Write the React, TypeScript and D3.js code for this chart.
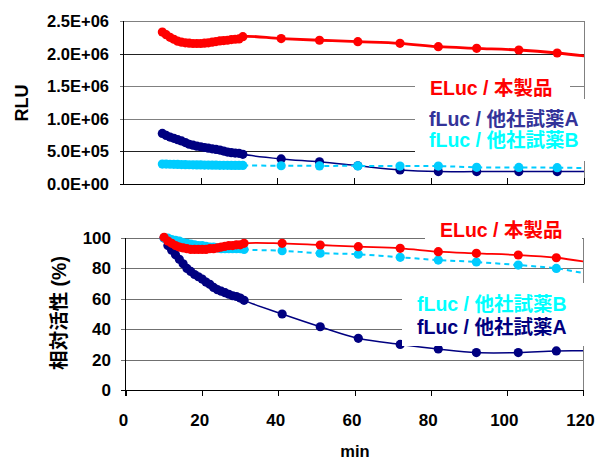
import React from "react";
import * as d3 from "d3";

const times = [10, 11, 12, 13, 14, 15, 16, 17, 18, 19, 20, 21, 22, 23, 24, 25, 26, 27, 28, 29, 30, 31, 41, 51, 61, 72, 82, 92, 103, 113, 123];

const elucRLU = [2330000, 2290000, 2250000, 2220000, 2190000, 2175000, 2165000, 2160000, 2155000, 2155000, 2155000, 2160000, 2165000, 2175000, 2185000, 2195000, 2200000, 2205000, 2215000, 2220000, 2225000, 2260000, 2230000, 2205000, 2183000, 2158000, 2106000, 2081000, 2055000, 2009000, 1943000];
const flucARLU = [775000, 745000, 720000, 700000, 680000, 660000, 635000, 610000, 595000, 580000, 570000, 560000, 550000, 540000, 530000, 520000, 505000, 490000, 480000, 475000, 470000, 455000, 385000, 340000, 280000, 215000, 190000, 190000, 190000, 190000, 190000];
const flucBRLU = [305000, 305000, 303000, 302000, 300000, 298000, 297000, 295000, 294000, 293000, 292000, 291000, 290000, 289000, 288000, 287000, 286000, 286000, 285000, 285000, 285000, 285000, 280000, 278000, 278000, 275000, 275000, 256000, 254000, 250000, 243000];

const elucRel = [100.5, 98, 96.5, 95, 94, 93.5, 93, 92.5, 92.5, 92.5, 92.5, 92.5, 93, 93, 93.5, 94, 94.5, 95, 95, 95.5, 95.5, 96.5, 96.5, 95.4, 94.3, 93.2, 91, 89.9, 88.8, 87, 83.5];
const flucARel = [100, 95, 92, 89, 86, 83, 80, 78, 76, 74.5, 73, 71, 69.5, 67.5, 66, 65, 64, 63, 62, 61.5, 60.5, 59, 50, 41.6, 34, 30, 27, 24.6, 24.6, 25.7, 25.7];
const flucBRel = [100, 100, 99, 98.5, 98, 97, 96.5, 96, 95.5, 95, 95, 94.5, 94, 94, 93.5, 93, 93, 93, 93, 93, 93, 92.5, 91.6, 90, 89.3, 87.3, 85.5, 84.2, 82.2, 80, 75.5];

const topYTicks = [0, 500000, 1000000, 1500000, 2000000, 2500000];
const topYLabels = ["0.0E+00", "5.0E+05", "1.0E+06", "1.5E+06", "2.0E+06", "2.5E+06"];
const botYTicks = [0, 20, 40, 60, 80, 100];
const xTicks = [0, 20, 40, 60, 80, 100, 120];

const legendTop = ["ELuc / 本製品", "fLuc / 他社試薬A", "fLuc / 他社試薬B"];
const legendBot = ["ELuc / 本製品", "fLuc / 他社試薬B", "fLuc / 他社試薬A"];

const RED = "#FF0000";
const NAVY = "#000080";
const CYAN = "#00CCFF";
const FONT = "'Liberation Sans', Arial, 'Noto Sans CJK JP', sans-serif";

export default function App() {
  const xT = d3.scaleLinear().domain([0, 120]).range([124, 584]);
  const yT = d3.scaleLinear().domain([0, 2500000]).range([184, 21]);
  const xB = d3.scaleLinear().domain([0, 120]).range([126, 583]);
  const yB = d3.scaleLinear().domain([0, 100]).range([390, 238]);

  const curve = d3.curveCatmullRom.alpha(0.5);
  const mkLine = (xs: any, ys: any) =>
    d3.line<number>().x((_, i) => xs(times[i])).y((d) => ys(d)).curve(curve);

  const series = (
    vals: number[], xs: any, ys: any, color: string, width: number, dash?: string
  ) => (
    <g>
      <path d={mkLine(xs, ys)(vals) || ""} fill="none" stroke={color} strokeWidth={width} strokeDasharray={dash} />
      {vals.map((v, i) => (
        <circle key={i} cx={xs(times[i])} cy={ys(v)} r={4.6} fill={color} />
      ))}
    </g>
  );

  return (
    <svg width={596} height={461} style={{ position: "absolute", left: 0, top: 0, background: "#fff" }} fontFamily={FONT} fontWeight="bold">
      <defs>
        <clipPath id="clipT"><rect x={124} y={0} width={460} height={200} /></clipPath>
        <clipPath id="clipB"><rect x={126} y={210} width={457} height={190} /></clipPath>
      </defs>
      <rect x={0} y={0} width={596} height={461} fill="#fff" />

      {/* ---------- TOP CHART ---------- */}
      {topYTicks.slice(1).map((t, i) => (
        <line key={i} x1={120} x2={584} y1={Math.round(yT(t)) + 0.5} y2={Math.round(yT(t)) + 0.5}
          stroke={t === 2000000 || t === 500000 ? "#222" : "#808080"} strokeWidth={1} />
      ))}
      <line x1={584.5} x2={584.5} y1={21} y2={184} stroke="#808080" />
      {topYLabels.map((l, i) => (
        <text key={i} x={109} y={yT(topYTicks[i]) + 6} textAnchor="end" fontSize={16.5} fill="#000">{l}</text>
      ))}
      <g clipPath="url(#clipT)">
        {series(flucARLU, xT, yT, NAVY, 1.5)}
        {series(flucBRLU, xT, yT, CYAN, 2, "5,4")}
        {series(elucRLU, xT, yT, RED, 2.8)}
      </g>
      <line x1={123.5} x2={123.5} y1={21} y2={184.5} stroke="#000" />
      <line x1={120} x2={124} y1={184.5} y2={184.5} stroke="#000" />
      <line x1={123.5} x2={584.5} y1={184.5} y2={184.5} stroke="#000" />
      {xTicks.slice(1).map((t, i) => (
        <line key={i} x1={Math.round(xT(t)) + 0.5} x2={Math.round(xT(t)) + 0.5} y1={178} y2={184} stroke="#000" />
      ))}
      <rect x={415} y={75} width={155} height={24} fill="#fff" />
      <rect x={415} y={99} width={185} height={62} fill="#fff" />
      <text x={430} y={95} fontSize={19.5} fill={RED}>{legendTop[0]}</text>
      <text x={429} y={126} fontSize={19.5} fill="#333399">{legendTop[1]}</text>
      <text x={429} y={147} fontSize={19.5} fill="#00FFFF">{legendTop[2]}</text>
      <text transform="translate(28,103) rotate(-90)" textAnchor="middle" fontSize={18} fill="#000">RLU</text>

      {/* ---------- BOTTOM CHART ---------- */}
      {botYTicks.slice(1).map((t, i) => (
        <line key={i} x1={121} x2={583} y1={Math.round(yB(t)) + 0.5} y2={Math.round(yB(t)) + 0.5} stroke="#707070" />
      ))}
      <line x1={583.5} x2={583.5} y1={238} y2={390} stroke="#808080" />
      {botYTicks.map((t, i) => (
        <text key={i} x={111} y={yB(t) + 6} textAnchor="end" fontSize={17} fill="#000">{t}</text>
      ))}
      <g clipPath="url(#clipB)">
        {series(flucARel, xB, yB, NAVY, 1.5)}
        {series(flucBRel, xB, yB, CYAN, 2, "5,4")}
        {series(elucRel, xB, yB, RED, 1.8)}
      </g>
      <line x1={125.5} x2={125.5} y1={238} y2={396} stroke="#000" />
      <line x1={121} x2={126} y1={390.5} y2={390.5} stroke="#000" />
      <line x1={125.5} x2={583.5} y1={390.5} y2={390.5} stroke="#000" />
      {xTicks.map((t, i) => (
        <line key={i} x1={Math.round(xB(t)) + 0.5} x2={Math.round(xB(t)) + 0.5} y1={390} y2={396} stroke="#000" />
      ))}
      {xTicks.map((t, i) => (
        <text key={i} x={xB(t) - 2.5} y={426} textAnchor="middle" fontSize={17} fill="#000">{t}</text>
      ))}
      <rect x={425} y={215} width={157} height={24} fill="#fff" />
      <rect x={402} y={283} width={198} height={63} fill="#fff" />
      <text x={440} y={237} fontSize={19.5} fill={RED}>{legendBot[0]}</text>
      <text x={417} y={311} fontSize={19.5} fill="#00FFFF">{legendBot[1]}</text>
      <text x={417} y={334} fontSize={19.5} fill={NAVY}>{legendBot[2]}</text>
      <text transform="translate(65.5,313) rotate(-90)" textAnchor="middle" fontSize={19.5} fill="#000">相対活性 (%)</text>
      <text x={355} y={457} textAnchor="middle" fontSize={16.5} fill="#000">min</text>
    </svg>
  );
}
